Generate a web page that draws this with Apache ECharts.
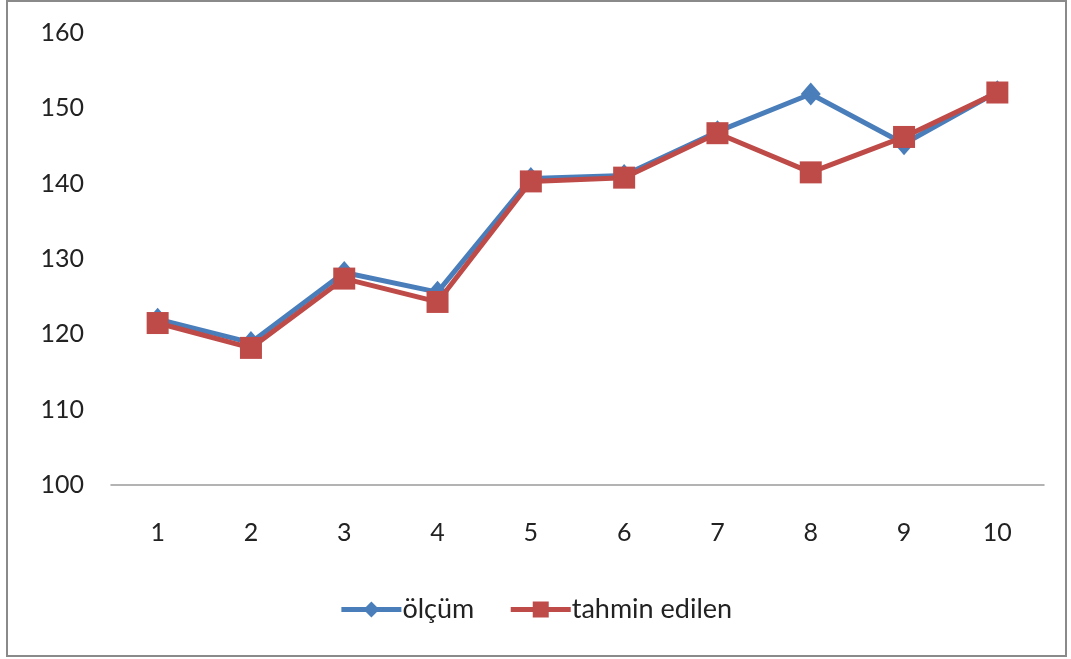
<!DOCTYPE html>
<html>
<head>
<meta charset="utf-8">
<script src="https://cdn.jsdelivr.net/npm/echarts@6/dist/echarts.min.js"></script>
<style>
  html, body { margin: 0; padding: 0; background: #fff; }
  #chart { width: 1071px; height: 659px; }
</style>
</head>
<body>
<div id="chart"></div>
<script>
// Sample index on the x axis
const categories = ['1', '2', '3', '4', '5', '6', '7', '8', '9', '10'];
// Measured values
const olcum = [122.0, 118.9, 128.2, 125.6, 140.7, 141.1, 146.9, 151.9, 145.3, 152.2];
// Predicted values
const tahmin = [121.5, 118.2, 127.4, 124.3, 140.3, 140.8, 146.7, 141.5, 146.2, 152.1];
const seriesNames = ['ölçüm', 'tahmin edilen'];

const FONT = 'Lato';
const chart = echarts.init(document.getElementById('chart'), null, { renderer: 'canvas' });

chart.setOption({
  animation: false,
  backgroundColor: '#ffffff',
  textStyle: { fontFamily: FONT },
  graphic: [{
    type: 'rect',
    shape: { x: 7, y: 1, width: 1059, height: 655 },
    style: { fill: 'none', stroke: '#8a8a8a', lineWidth: 2 },
    silent: true
  }],
  grid: { left: 111, right: 27, top: 33, bottom: 174 },
  legend: {
    bottom: 31,
    left: 'center',
    itemWidth: 60,
    itemHeight: 20,
    itemGap: 34,
    lineStyle: { width: 5 },
    textStyle: { fontFamily: FONT, fontSize: 27, color: '#222', padding: [0, 0, 0, -4] },
    data: seriesNames
  },
  xAxis: {
    type: 'category',
    data: categories,
    boundaryGap: true,
    axisLine: { lineStyle: { color: '#9a9a9a', width: 1.5 } },
    axisTick: { show: false },
    axisLabel: { color: '#222', fontSize: 25, fontFamily: FONT, margin: 35 }
  },
  yAxis: {
    type: 'value',
    min: 100,
    max: 160,
    interval: 10,
    axisLine: { show: false },
    axisTick: { show: false },
    splitLine: { show: false },
    axisLabel: { color: '#222', fontSize: 25, fontFamily: FONT, margin: 27 }
  },
  series: [
    {
      name: seriesNames[0],
      type: 'line',
      data: olcum,
      symbol: 'diamond',
      symbolSize: [20, 23],
      lineStyle: { color: '#4a7ebb', width: 5 },
      itemStyle: { color: '#4a7ebb' },
      z: 2
    },
    {
      name: seriesNames[1],
      type: 'line',
      data: tahmin,
      symbol: 'rect',
      symbolSize: 22,
      lineStyle: { color: '#be4b48', width: 5 },
      itemStyle: { color: '#be4b48' },
      z: 3
    }
  ]
});
</script>
</body>
</html>
